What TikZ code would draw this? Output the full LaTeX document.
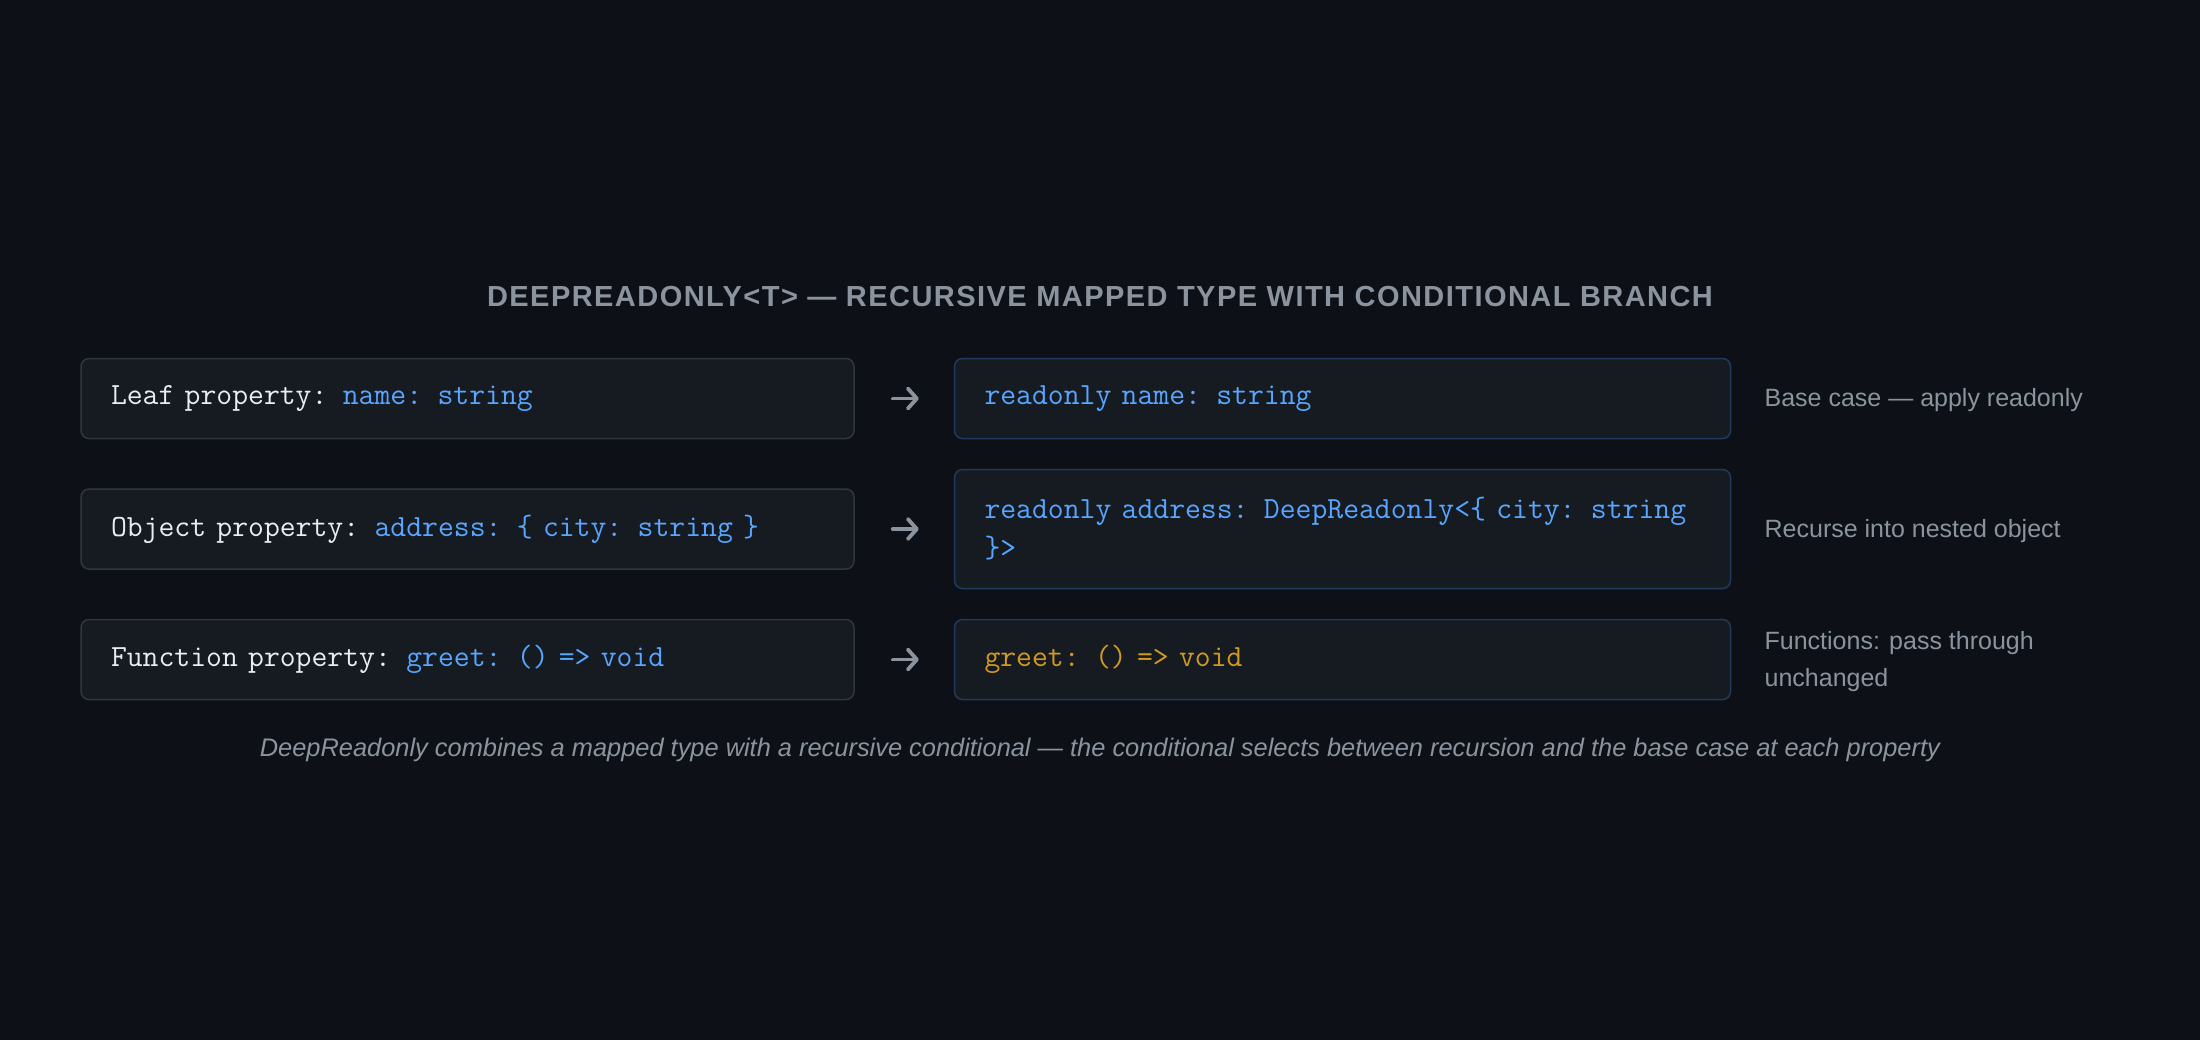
\documentclass[tikz,border=0pt]{standalone}
\usepackage{fontspec}
\setmainfont{Liberation Sans}
\setmonofont{Latin Modern Mono}
\newfontfamily\headfont[LetterSpace=5]{Liberation Sans}
\usetikzlibrary{positioning,arrows.meta}

\definecolor{pagebg}{HTML}{0D1117}
\definecolor{panel}{HTML}{161B22}
\definecolor{rimgray}{HTML}{30363D}
\definecolor{rimblue}{HTML}{1F3A5C}
\definecolor{codeblue}{HTML}{58A6FF}
\definecolor{codegold}{HTML}{D29922}
\definecolor{codewhite}{HTML}{E6EDF3}
\definecolor{muted}{HTML}{8B949E}

\newcommand{\blue}[1]{\textcolor{codeblue}{#1}}
\newcommand{\gold}[1]{\textcolor{codegold}{#1}}
% fixed-width spaces in the code font
\newcommand{\codefont}{\ttfamily\fontsize{15.4}{19.5}\selectfont
  \fontdimen2\font=0.525em \fontdimen3\font=0pt \fontdimen4\font=0pt}

\tikzset{
  codebox/.style={draw, rectangle, rounded corners=4pt, fill=panel, line width=0.75pt,
    align=left, inner xsep=15pt, minimum height=40pt, text=codewhite, font=\codefont},
  inbox/.style={codebox, draw=rimgray, text width=356.5pt},
  outbox/.style={codebox, draw=rimblue, text width=358pt},
  note/.style={align=left, text=muted, inner sep=0pt, yshift=-1pt, font=\fontsize{12.5}{18.5}\selectfont},
  flow/.style={draw=muted, line width=1.9pt, line cap=round,
    -{Straight Barb[length=4.5pt, width=10pt, round]},
    shorten <=19pt, shorten >=17.5pt},
}

\begin{document}
\begin{tikzpicture}[x=0.5pt, y=-0.5pt]
    \fill[pagebg] (0,0) rectangle (2200,1040);
    \useasboundingbox (0,0) rectangle (2200,1040);

    \node (title) at (1100,297) [text=muted, font=\headfont\bfseries\fontsize{14.5}{17}\selectfont] {DEEPREADONLY<T> — RECURSIVE MAPPED TYPE WITH CONDITIONAL BRANCH};

    \node (leafin) at (467.5,398.5) [inbox] {Leaf property: \blue{name: string}};
    \node (leafout) [outbox, right=49.5pt of leafin] {\blue{readonly name: string}};
    \node (leafnote) [note, right=16.5pt of leafout] {Base case — apply readonly};

    \node (objin) [inbox, below=24.5pt of leafin] {Object property: \blue{address: \{ city: string \}}};
    \node (objout) [outbox, right=49.5pt of objin, minimum height=59.5pt] {\blue{readonly address: DeepReadonly<\{ city: string}\\\blue{\}>}};
    \node (objnote) [note, right=16.5pt of objout] {Recurse into nested object};

    \node (fnin) [inbox, below=24.5pt of objin] {Function property: \blue{greet: () => void}};
    \node (fnout) [outbox, right=49.5pt of fnin] {\gold{greet: () => void}};
    \node (fnnote) [note, right=16.5pt of fnout] {Functions: pass through\\unchanged};

    \node (caption) at (1100,750) [text=muted, font=\itshape\fontsize{12.7}{15}\selectfont] {DeepReadonly combines a mapped type with a recursive conditional — the conditional selects between recursion and the base case at each property};

    \draw[flow] (leafin) -- (leafout);
    \draw[flow] (objin) -- (objout);
    \draw[flow] (fnin) -- (fnout);
\end{tikzpicture}
\end{document}
